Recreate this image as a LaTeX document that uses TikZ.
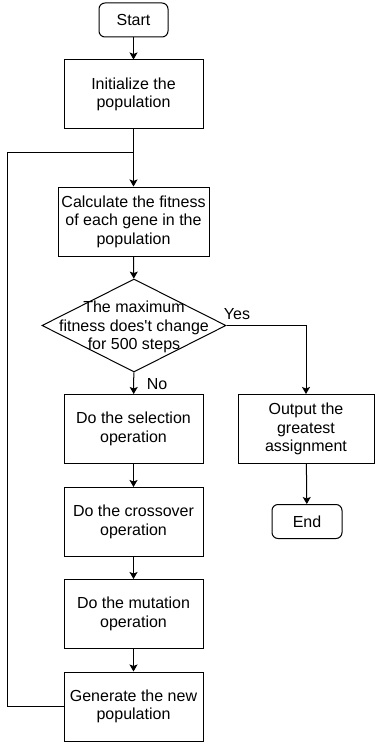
\documentclass[tikz,border=0pt]{standalone}
\usepackage{fontspec}
\setmainfont{Liberation Sans}
\usepackage{tikz}
\usetikzlibrary{shapes,arrows.meta}
\newcommand{\straightquote}{\XeTeXglyph\XeTeXcharglyph"0027\relax}

\begin{document}
\begin{tikzpicture}[x=1pt,y=-1pt,font=\fontsize{16}{18.5}\selectfont]
  \tikzset{BoxStyle/.style = {
    shape         = rectangle,
    draw          = black,
    fill          = white,
    line width    = 1pt,
    text          = black,
    align         = center,
    inner sep     = 0pt,
    minimum width = 139pt,
    minimum height= 69pt
    }
  }
  \tikzset{TermStyle/.style = {
    BoxStyle,
    rounded corners = 6pt,
    minimum width   = 69pt,
    minimum height  = 34pt
    }
  }
  \tikzset{DecisionStyle/.style = {
    shape         = diamond,
    draw          = black,
    line width    = 1pt,
    inner sep     = 0pt,
    minimum width = 184pt,
    minimum height= 93pt
    }
  }
  \tikzset{LineStyle/.style = {
    draw          = black,
    line width    = 1pt
    }
  }
  \tikzset{EdgeStyle/.style = {
    LineStyle,
    -{Stealth[length=7pt,width=8pt,inset=1.5pt]}
    }
  }
  \useasboundingbox (0,0) rectangle (375,746);

	\node[TermStyle](start) at (133.5, 20) {Start};
	\node[BoxStyle](init) at (133.5, 94.5) {Initialize the\\population};
	\node[BoxStyle, minimum width=151pt](calc) at (133.5, 221.5) {Calculate the fitness\\of each gene in the\\population};
	\node[DecisionStyle](check) at (134, 325.5) {};
	\node[align=center, inner sep=0pt](check-text) at (134, 327) {The maximum\\fitness does\straightquote t change\\for 500 steps};
	\node[BoxStyle](select) at (133.5, 429) {Do the selection\\operation};
	\node[BoxStyle](cross) at (133.5, 522) {Do the crossover\\operation};
	\node[BoxStyle](mutate) at (133.5, 614) {Do the mutation\\operation};
	\node[BoxStyle](generate) at (133.5, 706.5) {Generate the new\\population};
	\node[BoxStyle, minimum width=136pt](output) at (306, 429) {Output the\\greatest\\assignment};
	\node[TermStyle, minimum width=70pt](end) at (307, 521.5) {End};
	\node[inner sep=0pt](yes) at (237, 314) {Yes};
	\node[inner sep=0pt](no) at (157, 384) {No};
	\coordinate (merge) at (133.5, 153);
	\coordinate (loop) at (7, 153);
	\draw[EdgeStyle](start) to (init);
	\draw[EdgeStyle](init) to (calc);
	\draw[EdgeStyle](calc) to (check);
	\draw[EdgeStyle](check) to (select);
	\draw[EdgeStyle](select) to (cross);
	\draw[EdgeStyle](cross) to (mutate);
	\draw[EdgeStyle](mutate) to (generate);
	\draw[LineStyle](generate.west) -| (loop) -- (merge);
	\draw[EdgeStyle](check.east) -| (output.north);
	\draw[EdgeStyle](output) to (end);

  \end{tikzpicture}
\end{document}
